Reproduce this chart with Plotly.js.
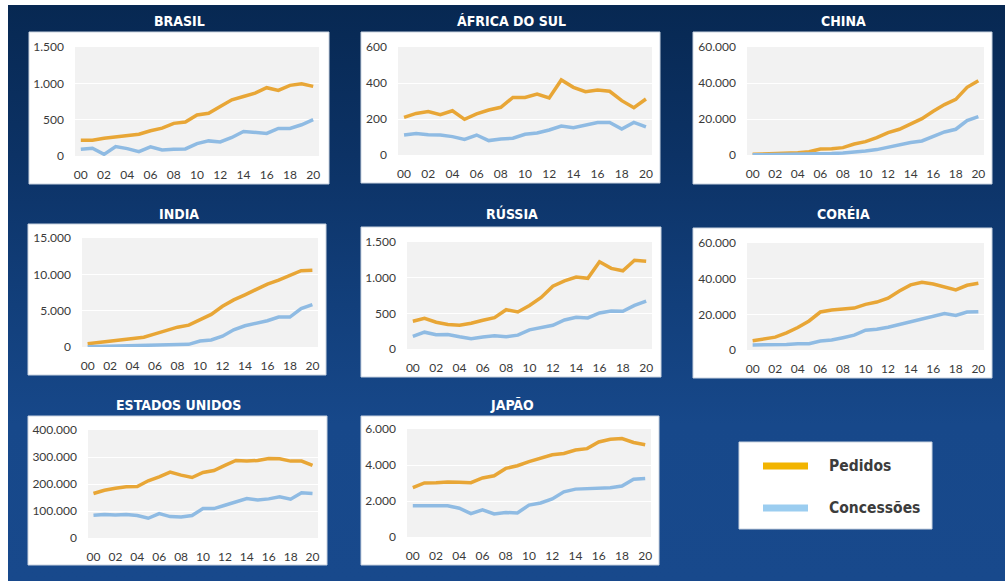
<!DOCTYPE html>
<html>
<head>
<meta charset="utf-8">
<script src="https://cdn.plot.ly/plotly-3.0.1.min.js"></script>
<style>
  html, body { margin: 0; padding: 0; background: #ffffff; }
  body { width: 1005px; height: 581px; overflow: hidden; position: relative; }
  #bg {
    position: absolute; left: 8px; top: 5px; width: 997px; height: 576px;
    background: linear-gradient(to bottom, #072852 0px, #0c3265 150px, #123f7b 300px, #17488a 420px, #18498c 576px);
  }
  #chart { position: absolute; left: 0; top: 0; width: 1005px; height: 581px; }
</style>
</head>
<body>
<div id="bg"></div>
<div id="chart"></div>
<script>
// ---------------- DATA ----------------
const years = [2000,2001,2002,2003,2004,2005,2006,2007,2008,2009,2010,2011,2012,2013,2014,2015,2016,2017,2018,2019,2020];
const tickYears = [2000,2002,2004,2006,2008,2010,2012,2014,2016,2018,2020];
const tickLabels = ["00","02","04","06","08","10","12","14","16","18","20"];
const seriesNames = ["Pedidos", "Concessões"];

const countryNames = ["BRASIL","ÁFRICA DO SUL","CHINA","INDIA","RÚSSIA","CORÉIA","ESTADOS UNIDOS","JAPÃO"];

const brasilPedidos    = [218,218,245,264,287,300,347,384,449,468,565,588,680,773,819,866,940,903,972,995,958];
const brasilConcessoes = [93,106,23,130,102,60,125,83,93,97,171,208,194,255,338,324,310,380,380,430,500];

const africaPedidos    = [209,231,241,224,246,198,228,250,265,320,320,339,317,417,376,352,361,354,302,263,311];
const africaConcessoes = [111,120,113,111,102,87,111,80,89,93,115,122,139,161,152,167,181,181,144,181,156];

const chinaPedidos     = [370,550,740,930,1300,1850,3300,3500,4100,6100,7400,9600,12400,14300,17000,20200,24300,28000,30900,37600,41300];
const chinaConcessoes  = [100,150,250,300,400,500,600,800,1100,1500,2200,3000,4400,5700,6900,7800,10200,12800,14300,19100,21300];

const indiaPedidos     = [460,650,880,1060,1200,1340,1800,2270,2730,3010,3700,4490,5600,6480,7180,7960,8660,9210,9810,10500,10560];
const indiaConcessoes  = [50,90,140,185,185,190,230,280,320,370,830,970,1480,2360,2920,3290,3610,4120,4120,5280,5830];

const russiaPedidos    = [389,430,375,343,333,361,403,440,551,519,611,722,880,954,1009,991,1222,1130,1097,1245,1231];
const russiaConcessoes = [176,236,199,204,171,144,167,185,171,194,269,301,333,407,444,435,505,532,528,611,671];

const coreiaPedidos    = [5200,6100,7200,9600,12600,16300,21300,22400,23000,23500,25600,26900,29100,33100,36500,38000,37000,35400,33700,36300,37400];
const coreiaConcessoes = [2800,2800,3000,3100,3500,3500,5000,5600,6900,8300,11100,11700,12800,14300,16100,17600,19100,20400,19400,21300,21500];

const euaPedidos       = [164700,177000,184500,189500,190700,211800,226600,244000,232800,224100,242700,250100,268700,287300,284800,287300,294700,293500,284800,284800,268700];
const euaConcessoes    = [84200,86700,85400,86700,83000,73100,90400,79300,78000,83000,109000,109000,121400,135000,146100,141200,144900,152300,143600,167200,164700];

const japaoPedidos     = [2740,3000,3020,3060,3040,3020,3280,3400,3810,3960,4190,4360,4570,4640,4830,4910,5280,5430,5470,5250,5130];
const japaoConcessoes  = [1740,1740,1770,1740,1600,1300,1510,1280,1360,1340,1770,1890,2110,2510,2660,2680,2700,2740,2830,3210,3250];

const yMax  = [1500, 600, 60000, 15000, 1500, 60000, 400000, 6000];
const yStep = [500, 200, 20000, 5000, 500, 20000, 100000, 2000];

const pedidosSeries    = [brasilPedidos, africaPedidos, chinaPedidos, indiaPedidos, russiaPedidos, coreiaPedidos, euaPedidos, japaoPedidos];
const concessoesSeries = [brasilConcessoes, africaConcessoes, chinaConcessoes, indiaConcessoes, russiaConcessoes, coreiaConcessoes, euaConcessoes, japaoConcessoes];

// ---------------- LAYOUT GEOMETRY (pixels) ----------------
const W = 1005, H = 581;
// plot (gray) areas [x0, x1, y0, y1]
const plotBoxes = [
  [75, 319, 47, 156], [398, 652, 47, 155], [747, 984, 47, 155],
  [82, 318, 238, 347], [407, 652, 242, 349], [747, 984, 243, 350],
  [88, 318, 430, 538], [407, 651, 429, 537]
];
// white panel boxes
const panelBoxes = [
  [29, 329, 32, 184], [361, 660, 32, 183], [693, 992, 32, 184],
  [28, 326, 224, 375], [361, 661, 227, 377], [693, 992, 228, 378],
  [28, 327, 416, 565], [361, 659, 416, 565]
];
const titlePos = [[179,21],[512,21],[843,21],[179,214],[512,214],[843,214],[178,405],[512,405]];

const colPedidos = '#e8a636';
const colConcessoes = '#8fbbe3';
const titleFont = '"Liberation Sans Narrow", "DejaVu Sans Condensed", "Roboto Condensed", Arial Narrow, sans-serif';
const tickFont = 'Lato, "Open Sans", sans-serif';

const px = x => x / W;
const py = y => (H - y) / H;

const data = [];
const layout = {
  width: W, height: H, autosize: false,
  margin: {l: 0, r: 0, t: 0, b: 0, pad: 0},
  paper_bgcolor: 'rgba(0,0,0,0)',
  plot_bgcolor: 'rgba(0,0,0,0)',
  showlegend: false,
  hovermode: false,
  separators: ',.',
  shapes: [],
  annotations: []
};

for (let i = 0; i < 8; i++) {
  const n = i === 0 ? '' : String(i + 1);
  const xa = 'x' + n, ya = 'y' + n;
  const pb = plotBoxes[i], wb = panelBoxes[i];

  layout['xaxis' + n] = {
    domain: [px(pb[0]), px(pb[1])],
    anchor: ya,
    range: [1999.5, 2020.5],
    tickvals: tickYears, ticktext: tickLabels,
    showgrid: false, zeroline: false, showline: false, ticks: '',
    ticklabelstandoff: 10,
    tickfont: {family: tickFont, size: 12, color: '#3a3a3a'},
    fixedrange: true
  };
  layout['yaxis' + n] = {
    domain: [py(pb[3]), py(pb[2])],
    anchor: xa,
    range: [0, yMax[i]],
    tick0: 0, dtick: yStep[i],
    tickformat: ',d',
    showgrid: true, gridcolor: '#ffffff', gridwidth: 1,
    zeroline: false, showline: false, ticks: '',
    ticklabelstandoff: 10,
    tickfont: {family: tickFont, size: 12, color: '#3a3a3a'},
    fixedrange: true
  };

  // white panel box
  layout.shapes.push({
    type: 'rect', xref: 'paper', yref: 'paper', layer: 'below',
    x0: px(wb[0]), x1: px(wb[1]), y0: py(wb[3]), y1: py(wb[2]),
    fillcolor: '#ffffff', line: {color: '#c9d3e0', width: 1}
  });
  // gray plot area
  layout.shapes.push({
    type: 'rect', xref: 'paper', yref: 'paper', layer: 'below',
    x0: px(pb[0]), x1: px(pb[1]), y0: py(pb[3]), y1: py(pb[2]),
    fillcolor: '#f2f2f2', line: {width: 0}
  });

  layout.annotations.push({
    xref: 'paper', yref: 'paper', x: px(titlePos[i][0]), y: py(titlePos[i][1]),
    xanchor: 'center', yanchor: 'middle', showarrow: false,
    text: '<b>' + countryNames[i] + '</b>',
    font: {family: titleFont, size: 14, color: '#ffffff'}
  });

  data.push({
    x: years, y: pedidosSeries[i], xaxis: xa, yaxis: ya,
    type: 'scatter', mode: 'lines', name: seriesNames[0],
    line: {color: colPedidos, width: 3.5}
  });
  data.push({
    x: years, y: concessoesSeries[i], xaxis: xa, yaxis: ya,
    type: 'scatter', mode: 'lines', name: seriesNames[1],
    line: {color: colConcessoes, width: 3.5}
  });
}

// legend box
const legendBox = [739, 932, 442, 529];
layout.shapes.push({
  type: 'rect', xref: 'paper', yref: 'paper', layer: 'below',
  x0: px(legendBox[0]), x1: px(legendBox[1]), y0: py(legendBox[3]), y1: py(legendBox[2]),
  fillcolor: '#ffffff', line: {color: '#c9d3e0', width: 1}
});
const legendRows = [[seriesNames[0], '#f2b400', 466], [seriesNames[1], '#9bcdf0', 508]];
legendRows.forEach(r => {
  layout.shapes.push({
    type: 'line', xref: 'paper', yref: 'paper', layer: 'above',
    x0: px(763), x1: px(808), y0: py(r[2]), y1: py(r[2]),
    line: {color: r[1], width: 7}
  });
  layout.annotations.push({
    xref: 'paper', yref: 'paper', x: px(827), y: py(r[2]),
    xanchor: 'left', yanchor: 'middle', showarrow: false,
    text: '<b>' + r[0] + '</b>',
    font: {family: titleFont, size: 15.5, color: '#3c3c3c'}
  });
});

Plotly.newPlot('chart', data, layout, {staticPlot: true, displayModeBar: false});
</script>
</body>
</html>
